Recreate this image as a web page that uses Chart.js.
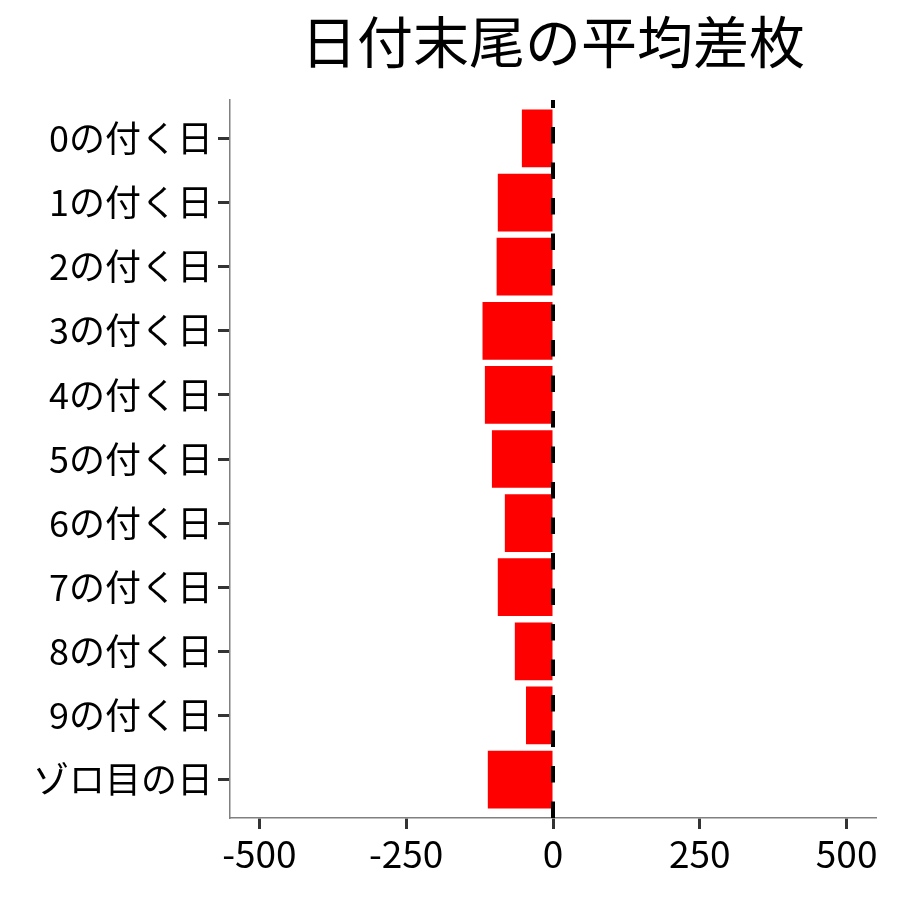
<!DOCTYPE html>
<html lang="ja">
<head>
<meta charset="utf-8">
<title>日付末尾の平均差枚</title>
<script src="https://cdn.jsdelivr.net/npm/chart.js@4"></script>
<style>
    html, body { margin: 0; padding: 0; background: #fff; }
    #wrap { width: 900px; height: 900px; }
</style>
</head>
<body>
<div id="wrap"><canvas id="grafica" width="900" height="900"></canvas></div>
<script>
const titulo = '日付末尾の平均差枚';
const categorias = ['0の付く日', '1の付く日', '2の付く日', '3の付く日', '4の付く日',
    '5の付く日', '6の付く日', '7の付く日', '8の付く日', '9の付く日', 'ゾロ目の日'];
const diferencias = [-53, -94, -96, -120, -116, -104, -82, -94, -65, -46, -111];
const ticksX = [-500, -250, 0, 250, 500];
const fuente = "'Noto Sans CJK JP', 'Noto Sans', sans-serif";

(() => {
    // titulo centrado sobre el area del grafico (como ggplot)
    const tituloPlugin = {
        id: 'tituloPanel',
        afterDraw(chart) {
            const { ctx, chartArea } = chart;
            ctx.save();
            ctx.font = `56px ${fuente}`;
            ctx.fillStyle = '#000';
            ctx.textAlign = 'center';
            ctx.textBaseline = 'middle';
            ctx.fillText(titulo, (chartArea.left + chartArea.right) / 2, 42);
            ctx.restore();
        }
    };

    const ctx = document.getElementById('grafica').getContext('2d');
    const myChart = new Chart(ctx, {
        data: {
            datasets: [{
                // linea discontinua en 0
                type: 'line',
                data: [{ x: 0, y: 10.6 }, { x: 0, y: -0.6 }],
                borderColor: '#000',
                borderWidth: 4,
                borderDash: [16.5, 19],
                pointRadius: 0,
                fill: false,
                clip: 4
            }, {
                type: 'bar',
                indexAxis: 'y',
                data: diferencias.map((v, i) => ({ x: v, y: i })),
                backgroundColor: '#ff0000',
                borderWidth: 0,
                categoryPercentage: 0.9,
                barPercentage: 1
            }]
        },
        options: {
            responsive: false,
            animation: false,
            layout: { padding: { top: 100, right: 24, bottom: 0, left: 0 } },
            scales: {
                x: {
                    type: 'linear',
                    min: -550,
                    max: 550,
                    offset: false,
                    afterBuildTicks: s => { s.ticks = ticksX.map(v => ({ value: v })); },
                    afterFit: s => { s.height = 82; },
                    grid: { offset: false, drawOnChartArea: false, tickLength: 11, tickWidth: 3, tickColor: '#333' },
                    border: { color: '#808080', width: 1.5 },
                    ticks: { color: '#000', padding: 3, font: { family: fuente, size: 37 } }
                },
                y: {
                    type: 'linear',
                    reverse: true,
                    min: -0.6,
                    max: 10.6,
                    offset: false,
                    afterBuildTicks: s => { s.ticks = categorias.map((c, i) => ({ value: i })); },
                    afterFit: s => { s.width = 230; },
                    grid: { offset: false, drawOnChartArea: false, tickLength: 12, tickWidth: 3, tickColor: '#333' },
                    border: { color: '#808080', width: 1.5 },
                    ticks: {
                        color: '#000',
                        padding: 5,
                        autoSkip: false,
                        font: { family: fuente, size: 36 },
                        callback: v => categorias[v] ?? ''
                    }
                }
            },
            plugins: {
                legend: { display: false },
                tooltip: { enabled: false }
            }
        },
        plugins: [tituloPlugin]
    });
})();
</script>
</body>
</html>
